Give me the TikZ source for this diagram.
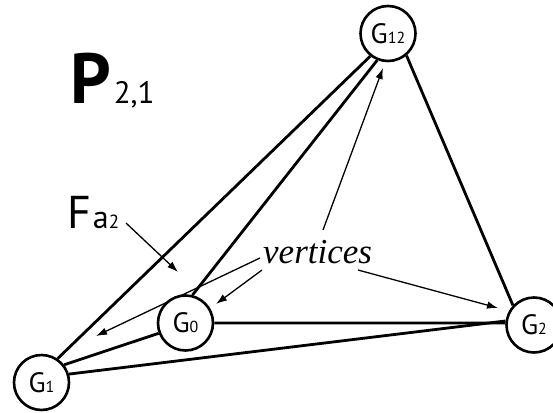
\documentclass[tikz,border=0pt]{standalone}
\usepackage{fontspec}
\setmainfont{Liberation Serif}
\setsansfont{PT Sans}
\usetikzlibrary{arrows.meta,backgrounds}
\newcommand\subtx[1]{{\fontsize{16}{16}\selectfont #1}}
\begin{document}
\begin{tikzpicture}[x=1pt,y=-1pt,
  vx/.style={circle,draw,line width=2.6pt,fill=white,minimum size=55pt,inner sep=0pt,
    font=\sffamily\fontsize{28}{28}\selectfont},
  edge/.style={line width=2.8pt},
  ptr/.style={line width=1.3pt,-{Latex[length=11pt,width=7.5pt]}},
  lbl/.style={anchor=base west,inner sep=0pt}]
\useasboundingbox (0,0) rectangle (553,412);
% vertices (nodes)
\node[vx] (G12) at (388,33.5) {G\subtx{12}};
\node[vx] (G0)  at (185.5,323) {G\subtx{0}};
\node[vx] (G1)  at (41.5,382.5) {G\subtx{1}};
\node[vx] (G2)  at (534,325) {G\subtx{2}};
% labels
\node[lbl,font=\sffamily\bfseries\fontsize{71}{71}\selectfont] (P) at (70,103)
  {P\hspace{3pt}{\mdseries\fontsize{31}{31}\selectfont 2,1}};
\node[lbl,font=\sffamily\fontsize{46}{46}\selectfont] (Fa) at (67,228)
  {F\hspace{2pt}{\fontsize{32}{32}\selectfont a}{\fontsize{19}{19}\selectfont 2}};
\node[lbl,font=\itshape\fontsize{35}{35}\selectfont] (vt) at (263,263) {vertices};
% free ends of pointers
\coordinate (fs) at (126,223);
\coordinate (ft) at (178,272);
\coordinate (s1) at (260,258);
\coordinate (t1) at (96,336);
\coordinate (s2) at (262,270);
\coordinate (t2) at (216,304);
\coordinate (s3) at (323,230);
\coordinate (t3) at (383,68);
\coordinate (s4) at (358,270);
\coordinate (t4) at (498,308);
\begin{scope}[on background layer]
  \draw[edge] (G1.56) -- (G12.232);
  \draw[edge] (G0.76) -- (G12.248);
  \draw[edge] (G12.310) -- (G2.137);
  \draw[edge] (G0.east) -- (G2.176);
  \draw[edge] (G1.17) -- (G2.172);
  \draw[edge] (G1.38) -- (G0.201);
  \draw[ptr] (fs) -- (ft);
  \draw[ptr] (s1) -- (t1);
  \draw[ptr] (s2) -- (t2);
  \draw[ptr] (s3) -- (t3);
  \draw[ptr] (s4) -- (t4);
\end{scope}
\end{tikzpicture}
\end{document}
